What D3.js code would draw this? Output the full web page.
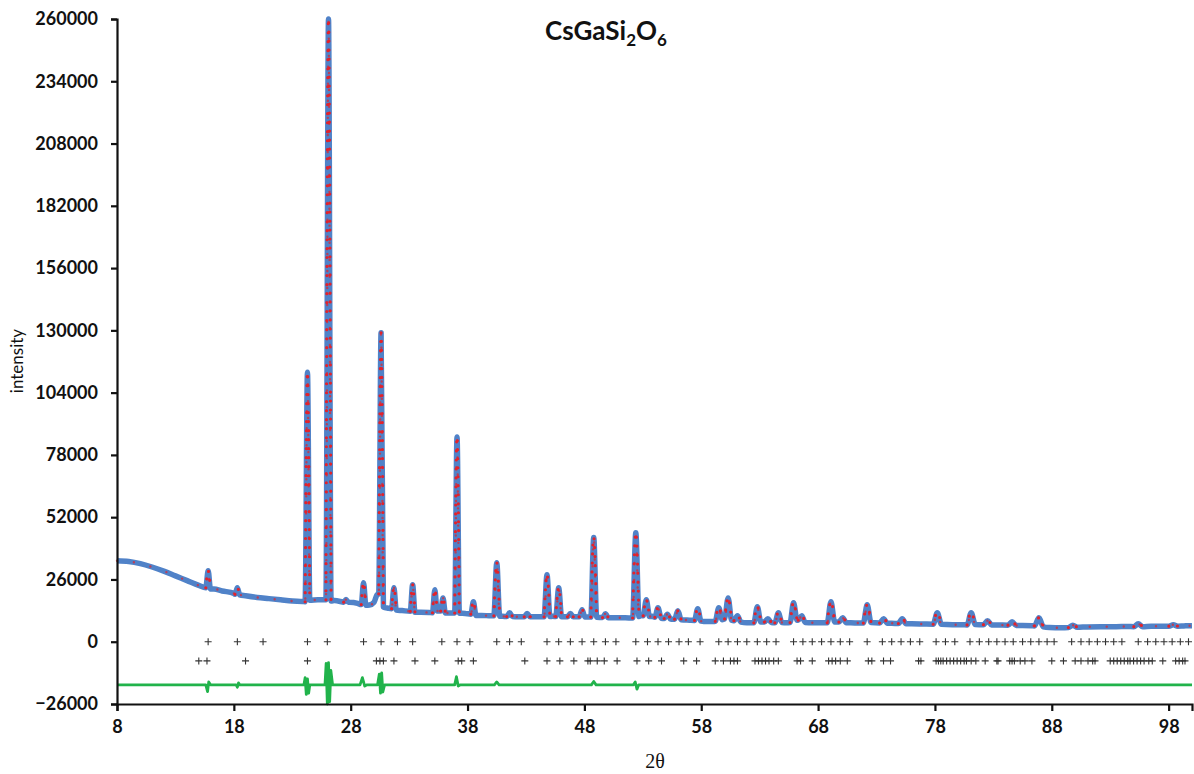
<!DOCTYPE html>
<html>
<head>
<meta charset="utf-8">
<script src="https://cdn.jsdelivr.net/npm/d3@7"></script>
<style>
    html, body { margin: 0; padding: 0; background: #fff; overflow: hidden; }
    svg { display: block; }
</style>
</head>
<body>
<div id="chart"></div>
<script>
// Rietveld plot CsGaSi2O6

// fond continu [2theta, intensite]
const background = [
    [8, 33800], [9, 33500], [10, 32600], [11, 31200], [12, 29500], [13, 27500], [14, 25500],
    [15, 23500], [16.3, 22000], [17, 21200], [18, 20200], [19, 19200], [20, 18500], [21, 18000],
    [22, 17500], [23, 17000], [23.9, 16800], [25.2, 17500], [26.6, 17200], [27.3, 16600],
    [27.9, 16500], [28.6, 16000], [29.6, 15300], [30.0, 16500], [30.25, 19600], [31.2, 14000],
    [32.4, 13000], [34.0, 12300], [34.7, 12200], [36.5, 12000], [37.8, 11800], [39.2, 11000],
    [40.0, 10800], [41.0, 10600], [42.3, 10400], [44.0, 10400], [45.3, 10600], [47.3, 10400],
    [50.5, 10000], [51.5, 10000], [52.85, 11000], [53.8, 10600], [55.6, 9400], [57.0, 9000],
    [58.5, 8400], [59.0, 8400], [61.9, 7900], [62.3, 7900], [65.3, 7900], [67.5, 7900],
    [68.3, 7900], [70.8, 7900], [71.5, 7800], [74.3, 7700], [76.0, 7500], [77.0, 7400],
    [79.5, 7100], [80.3, 7100], [83.3, 7000], [85.5, 6800], [86.3, 6700], [87.8, 5900],
    [88.8, 5800], [91.0, 6200], [92.2, 6300], [93.5, 6300], [94.5, 6400], [96.5, 6500],
    [97.5, 6500], [99.3, 6600], [100, 6700]
];

// pics [2theta, pied gauche, sommet, pied droit, demi-largeur]
const peaks = [
    [15.8, 22500, 29600, 22000, 0.2], [18.3, 19800, 22500, 19600, 0.2],
    [24.3, 16700, 112500, 17300, 0.2], [26.1, 17500, 260000, 17000, 0.22],
    [27.6, 16500, 17600, 16500, 0.2], [29.1, 15500, 24600, 15200, 0.2],
    [30.6, 20000, 129000, 14500, 0.2], [31.7, 13800, 22500, 13200, 0.2],
    [33.3, 12700, 23800, 12300, 0.2], [35.2, 12100, 21700, 12800, 0.2],
    [35.9, 12800, 18300, 12000, 0.2], [37.1, 12000, 85500, 11900, 0.2],
    [38.5, 11500, 16700, 11000, 0.22], [40.5, 10800, 33000, 10600, 0.25],
    [41.6, 10500, 12100, 10500, 0.25], [43.1, 10400, 11800, 10400, 0.25],
    [44.8, 10400, 28000, 10500, 0.25], [45.8, 10500, 22500, 10400, 0.25],
    [46.8, 10400, 11800, 10400, 0.25], [47.8, 10400, 13400, 10300, 0.25],
    [48.8, 10300, 43500, 10200, 0.25], [49.8, 10100, 11700, 10000, 0.25],
    [52.4, 9900, 45500, 10500, 0.27], [53.3, 10800, 17500, 10500, 0.27],
    [54.3, 10200, 14200, 9800, 0.27], [55.1, 9700, 11500, 9500, 0.27],
    [56.0, 9400, 12900, 9200, 0.28], [57.7, 8900, 13800, 8600, 0.28],
    [59.5, 8500, 14200, 9200, 0.3], [60.3, 9500, 18300, 9000, 0.3],
    [61.1, 8800, 10800, 8200, 0.3], [62.8, 7900, 14600, 8200, 0.3],
    [63.7, 8200, 9600, 8000, 0.3], [64.6, 7900, 12100, 8000, 0.3],
    [65.9, 8000, 16300, 9000, 0.3], [66.6, 9000, 10800, 8000, 0.3],
    [69.1, 7900, 16700, 8200, 0.32], [70.1, 8200, 10000, 7900, 0.32],
    [72.2, 7800, 15400, 8000, 0.33], [73.6, 7800, 9600, 7700, 0.33],
    [75.2, 7600, 9600, 7500, 0.33], [78.2, 7300, 12100, 7300, 0.35],
    [81.1, 7000, 12100, 7200, 0.35], [82.5, 7100, 8800, 7000, 0.35],
    [84.6, 6900, 8300, 6800, 0.35], [86.9, 6600, 10000, 6200, 0.38],
    [89.8, 5900, 6900, 6000, 0.38], [95.4, 6300, 7500, 6300, 0.38],
    [98.4, 6500, 7100, 6500, 0.38]
];

// courbe de difference (obs - calc), decalee
const difference = [
    [8, -18000], [15.6, -18000], [15.75, -20800], [15.85, -16800], [16.0, -18000],
    [18.2, -18000], [18.3, -19000], [18.4, -17200], [18.5, -18000],
    [24.0, -18000], [24.1, -15000], [24.2, -22000], [24.3, -15500], [24.4, -21500], [24.5, -18000],
    [25.8, -18000], [25.9, -9000], [26.0, -26000], [26.1, -8700], [26.2, -25000], [26.3, -12000], [26.45, -18000],
    [28.8, -18000], [29.0, -15000], [29.2, -18500], [29.4, -18000],
    [30.3, -18000], [30.45, -13500], [30.55, -21500], [30.65, -13000], [30.75, -21000], [30.9, -18000],
    [36.9, -18000], [37.05, -14600], [37.2, -18500], [37.4, -18000],
    [40.3, -18000], [40.5, -16800], [40.7, -18000],
    [48.6, -18000], [48.8, -16600], [49.0, -18000],
    [52.2, -18000], [52.35, -16800], [52.5, -19800], [52.65, -18000],
    [100, -18000]
];

// positions des reflexions de Bragg (deux rangees)
const braggRow1 = [15.8, 18.3, 20.5, 24.3, 26.0, 29.1, 30.6, 32.0, 33.3, 35.8, 37.1, 38.2, 40.5,
    41.6, 42.6, 44.8, 45.8, 46.8, 47.8, 48.8, 49.8, 50.7, 52.4, 53.4, 54.3, 55.2, 56.1, 56.9, 57.9,
    59.5, 60.3, 61.1, 61.9, 62.8, 63.6, 64.4, 65.9, 66.7, 67.5, 68.3, 69.1, 69.9, 70.7, 72.2, 73.5,
    74.3, 75.1, 75.9, 76.7, 78.1, 78.9, 79.7, 81.0, 81.8, 82.6, 83.3, 84.0, 84.7, 85.5, 86.2, 86.9,
    87.6, 88.2, 89.7, 90.5, 91.2, 91.9, 92.6, 93.3, 94.0, 95.4, 96.2, 96.9, 97.6, 98.3, 99.0, 99.7];
const braggRow2 = [15.0, 15.7, 19.0, 24.3, 30.2, 30.5, 30.8, 31.7, 33.5, 35.2, 37.2, 37.5, 38.5,
    42.9, 44.8, 45.9, 47.1, 48.3, 48.5, 49.1, 49.7, 50.8, 52.5, 53.5, 54.6, 56.5, 57.6, 59.2, 59.9,
    60.5, 60.8, 61.1, 62.6, 62.9, 63.2, 63.5, 63.8, 64.2, 64.6, 66.2, 66.5, 67.5, 68.9, 69.2, 69.5,
    69.9, 70.5, 72.3, 72.6, 73.6, 74.2, 76.6, 76.8, 78.1, 78.3, 78.5, 78.7, 79.0, 79.3, 79.6, 79.9,
    80.2, 80.5, 80.7, 81.1, 81.5, 82.3, 83.3, 83.4, 84.4, 84.6, 84.8, 85.3, 85.7, 86.3, 88.0, 89.0,
    90.0, 90.5, 91.1, 91.5, 91.7, 93.0, 93.3, 93.6, 93.9, 94.2, 94.5, 94.7, 95.0, 95.3, 95.6, 95.9,
    96.3, 96.6, 97.5, 98.6, 98.9, 99.2, 99.4];
const braggLevels = [0, -8000];

const xTicks = [8, 18, 28, 38, 48, 58, 68, 78, 88, 98];
const yTicks = [-26000, 0, 26000, 52000, 78000, 104000, 130000, 156000, 182000, 208000, 234000, 260000];

// ---------------------------------------------------------------------------
const width = 1194, height = 774;
const margin = { top: 19, right: 2, bottom: 70, left: 117 };
const innerWidth = width - margin.left - margin.right;
const innerHeight = height - margin.top - margin.bottom;

const svg = d3.select('#chart').append('svg')
    .attr('width', width)
    .attr('height', height);

const g = svg.append('g')
    .attr('transform', `translate(${margin.left},${margin.top})`);

const x = d3.scaleLinear().domain([8, 100]).range([0, innerWidth]);
const y = d3.scaleLinear().domain([-26000, 260000]).range([innerHeight, 0]);

// profil : fond + pics (pied, sommet, pied)
const peakPoints = peaks.map(([t, l, a, r, hw]) => [[t - hw, l], [t, a], [t + hw, r]]);
const profile = background.filter(([t]) => !peaks.some(p => Math.abs(t - p[0]) < p[4] + 0.02));
peakPoints.forEach(pts => profile.push(...pts));
profile.sort((a, b) => a[0] - b[0]);

const line = d3.line()
    .x(d => x(d[0]))
    .y(d => y(d[1]))
    .curve(d3.curveMonotoneX);

// calcule (bleu epais)
g.append('path')
    .datum(profile)
    .attr('d', line)
    .attr('fill', 'none')
    .attr('stroke', '#5082c8')
    .attr('stroke-width', 5.5)
    .attr('stroke-linejoin', 'round');

// observe (points rouges) : discrets sur le fond, serres sur les pics
g.append('path')
    .datum(profile)
    .attr('d', line)
    .attr('fill', 'none')
    .attr('stroke', '#e3222b')
    .attr('stroke-width', 2.4)
    .attr('stroke-linecap', 'round')
    .attr('stroke-dasharray', '0 17')
    .attr('opacity', 0.7);

g.append('g').selectAll('path')
    .data(peakPoints)
    .enter()
    .append('path')
    .attr('d', line)
    .attr('fill', 'none')
    .attr('stroke', '#e3222b')
    .attr('stroke-width', 3.2)
    .attr('stroke-linecap', 'round')
    .attr('stroke-dasharray', '0 9');

// reflexions de Bragg
[braggRow1, braggRow2].forEach((row, i) => {
    g.append('g').selectAll('path')
        .data(row)
        .enter()
        .append('path')
        .attr('transform', d => `translate(${x(d)},${y(braggLevels[i])})`)
        .attr('d', 'M-3.5,0H3.5M0,-3.5V3.5')
        .attr('stroke', '#333')
        .attr('stroke-width', 1.1)
        .attr('fill', 'none');
});

// difference (vert)
g.append('path')
    .datum(difference)
    .attr('d', d3.line().x(d => x(d[0])).y(d => y(d[1])))
    .attr('fill', 'none')
    .attr('stroke', '#21b34b')
    .attr('stroke-width', 2.8)
    .attr('stroke-linejoin', 'round');

// axes
const xAxis = g.append('g')
    .attr('transform', `translate(0,${innerHeight})`)
    .call(d3.axisBottom(x).tickValues(xTicks).tickSize(7).tickPadding(9).tickFormat(d3.format('d')));

const yAxis = g.append('g')
    .call(d3.axisLeft(y).tickValues(yTicks).tickSize(6).tickPadding(13).tickFormat(d3.format('d')));

[xAxis, yAxis].forEach(ax => {
    ax.attr('font-family', 'Lato, sans-serif')
        .attr('font-size', 18)
        .attr('font-weight', 700);
    ax.selectAll('.tick text').attr('fill', '#111');
    ax.select('.domain').attr('stroke', '#111').attr('stroke-width', 2.2);
    ax.selectAll('.tick line').attr('stroke', '#111').attr('stroke-width', 2.2);
});

// titres
const title = svg.append('text')
    .attr('x', 606)
    .attr('y', 40)
    .attr('text-anchor', 'middle')
    .attr('font-family', 'Lato, sans-serif')
    .attr('font-weight', 700)
    .attr('font-size', 26)
    .attr('fill', '#111');
title.append('tspan').text('CsGaSi');
title.append('tspan').attr('dy', 6).attr('font-size', 17).text('2');
title.append('tspan').attr('dy', -6).text('O');
title.append('tspan').attr('dy', 6).attr('font-size', 17).text('6');

svg.append('text')
    .attr('transform', 'translate(23,361) rotate(-90)')
    .attr('text-anchor', 'middle')
    .attr('font-family', 'Lato, sans-serif')
    .attr('font-size', 17)
    .attr('fill', '#111')
    .text('intensity');

svg.append('text')
    .attr('x', 655)
    .attr('y', 768)
    .attr('text-anchor', 'middle')
    .attr('font-family', '"Liberation Serif", "DejaVu Serif", serif')
    .attr('font-size', 20)
    .attr('fill', '#111')
    .text('2θ');
</script>
</body>
</html>
